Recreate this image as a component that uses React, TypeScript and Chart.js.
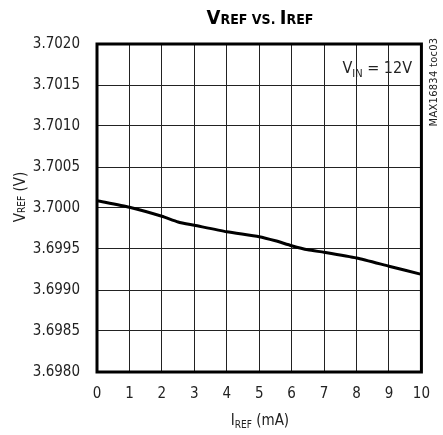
import React, { useEffect, useRef } from "react";
import { Chart, registerables } from "chart.js";

Chart.register(...registerables);

const currentMA: number[] = [0, 1, 2, 2.5, 3, 4, 5, 5.5, 6, 6.5, 7, 8, 9, 10];
const vrefV: number[] = [3.70009, 3.70001, 3.6999, 3.69983, 3.69979, 3.69971, 3.69965, 3.6996, 3.69954, 3.69949, 3.69946, 3.69939, 3.69929, 3.69919];
const xTicks: number[] = [0, 1, 2, 3, 4, 5, 6, 7, 8, 9, 10];
const yMin = 3.698;
const yMax = 3.702;
const yStep = 0.0005;

const FONT = '"DejaVu Sans", sans-serif';

const framePlugin = {
  id: "frame",
  afterDatasetsDraw(chart: any) {
    const { ctx, chartArea } = chart;
    ctx.save();
    ctx.strokeStyle = "#000";
    ctx.lineWidth = 3;
    ctx.strokeRect(chartArea.left, chartArea.top, chartArea.right - chartArea.left, chartArea.bottom - chartArea.top);
    ctx.restore();
  },
};

export default function App() {
  const ref = useRef<HTMLCanvasElement | null>(null);

  useEffect(() => {
    if (!ref.current) return;
    const chart = new Chart(ref.current, {
      type: "line",
      data: {
        datasets: [
          {
            data: currentMA.map((x, i) => ({ x, y: vrefV[i] })),
            borderColor: "#000",
            borderWidth: 3,
            pointRadius: 0,
            tension: 0.2,
            fill: false,
          },
        ],
      },
      options: {
        animation: false,
        responsive: true,
        maintainAspectRatio: false,
        layout: { padding: { top: 44, right: 19, left: 0, bottom: 0 } },
        plugins: { legend: { display: false }, tooltip: { enabled: false }, title: { display: false } },
        scales: {
          x: {
            type: "linear",
            min: 0,
            max: 10,
            afterFit(scale: any) {
              scale.height = 63;
            },
            afterBuildTicks(scale: any) {
              scale.ticks = xTicks.map((v) => ({ value: v }));
            },
            grid: { color: "#222", lineWidth: 1, drawTicks: false },
            border: { display: false },
            ticks: { color: "#222", font: { family: FONT, size: 15, weight: "condensed" as any }, padding: 13, maxRotation: 0 },
          },
          y: {
            type: "linear",
            min: yMin,
            max: yMax,
            afterFit(scale: any) {
              scale.width = 97;
            },
            grid: { color: "#222", lineWidth: 1, drawTicks: false },
            border: { display: false },
            ticks: {
              stepSize: yStep,
              color: "#222",
              font: { family: FONT, size: 15, weight: "condensed" as any },
              padding: 17,
              callback: (v: any) => Number(v).toFixed(4),
            },
          },
        },
      },
      plugins: [framePlugin],
    });
    return () => chart.destroy();
  }, []);

  const abs: React.CSSProperties = { position: "absolute", fontFamily: FONT, fontStretch: "condensed", color: "#222", whiteSpace: "nowrap" };

  return (
    <div style={{ position: "fixed", left: 0, top: 0, width: 443, height: 435, background: "#fff" }}>
      <canvas ref={ref} style={{ width: 443, height: 435 }} />
      <div style={{ ...abs, left: 160, width: 200, top: 7, textAlign: "center", fontWeight: "bold", fontSize: 20, lineHeight: "20px", color: "#000" }}>
        V<span style={{ fontSize: 14 }}>REF VS. </span>I<span style={{ fontSize: 14 }}>REF</span>
      </div>
      <div style={{ ...abs, right: 31, top: 59, fontSize: 16, lineHeight: "18px", textAlign: "right" }}>
        V<span style={{ fontSize: 11, position: "relative", top: 4 }}>IN</span> = 12V
      </div>
      <div style={{ ...abs, left: 0, top: 0, width: 100, height: 20, fontSize: 15, lineHeight: "20px", textAlign: "center", transform: "translate(-30px, 187px) rotate(-90deg)" }}>
        V<span style={{ fontSize: 10 }}>REF</span> (V)
      </div>
      <div style={{ ...abs, left: 160, width: 200, top: 412, textAlign: "center", fontSize: 15, lineHeight: "16px" }}>
        I<span style={{ fontSize: 10, position: "relative", top: 3 }}>REF</span> (mA)
      </div>
      <div style={{ ...abs, left: 0, top: 0, width: 100, height: 12, fontSize: 11, lineHeight: "12px", letterSpacing: 0.3, textAlign: "center", transform: "translate(384px, 76px) rotate(-90deg)" }}>
        MAX16834 toc03
      </div>
    </div>
  );
}
